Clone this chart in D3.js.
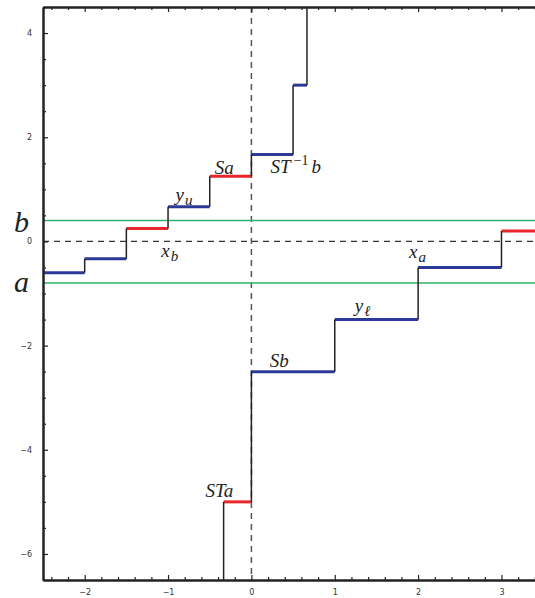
<!DOCTYPE html>
<html>
<head>
<meta charset="utf-8">
<script src="https://cdn.jsdelivr.net/npm/d3@7"></script>
<style>
  html, body { margin: 0; padding: 0; background: #fff; }
  svg { display: block; }
  .tick text { font-family: "DejaVu Sans", sans-serif; font-size: 8px; fill: #333; }
  .lbl { font-family: "Liberation Serif", "DejaVu Serif", serif; font-style: italic; fill: #222; }
</style>
</head>
<body>
<svg id="chart" width="535" height="598"></svg>
<script>
// Upper branch of the step map: each piece spans [start, end) at a constant value
const upperStart = [-2.5, -2, -1.5, -1, -0.5, 0, 0.5];
const upperEnd   = [-2, -1.5, -1, -0.5, 0, 0.5, 2 / 3];
const upperValue = [-0.6, -1 / 3, 0.25, 2 / 3, 1.25, 5 / 3, 3];
const upperKind  = ["u", "u", "r", "u", "r", "u", "u"];

// Lower branch
const lowerStart = [-1 / 3, 0, 1, 2, 3];
const lowerEnd   = [0, 1, 2, 3, 3.5];
const lowerValue = [-5, -2.5, -1.5, -0.5, 0.2];
const lowerKind  = ["r", "u", "u", "u", "r"];

// Interval end points a and b
const levelNames  = ["a", "b"];
const levelValues = [-0.8, 0.4];

// Annotations, anchored in data coordinates
const labelText = ["x_b", "y_u", "Sa", "ST^b", "x_a", "y_l", "Sb", "STa"];
const labelX    = [-1.08, -0.91, -0.44, 0.23, 1.89, 1.24, 0.22, -0.55];
const labelY    = [-0.30, 0.77, 1.29, 1.31, -0.32, -1.35, -2.41, -4.90];

const xTicks = [-2, -1, 0, 1, 2, 3];
const yTicks = [-6, -4, -2, 0, 2, 4];

const colour = { u: "#2b3a97", r: "#e8262c", green: "#2db46c" };

const svg = d3.select("#chart");
const x = d3.scaleLinear().domain([-2.5, 3.45]).range([43, 539]);
const y = d3.scaleLinear().domain([-6.5, 4.5]).range([580, 7]);

const [x0, x1] = x.range();
const [yB, yT] = y.range();

svg.append("defs").append("clipPath").attr("id", "plot")
  .append("rect").attr("x", x0).attr("y", yT).attr("width", x1 - x0).attr("height", yB - yT);

const g = svg.append("g").attr("clip-path", "url(#plot)");

// dashed coordinate axes
g.append("line")
  .attr("x1", x0).attr("x2", x1).attr("y1", y(0)).attr("y2", y(0))
  .attr("stroke", "#333").attr("stroke-width", 1.2).attr("stroke-dasharray", "6,5");
g.append("line")
  .attr("x1", x(0)).attr("x2", x(0)).attr("y1", yT).attr("y2", yB)
  .attr("stroke", "#555").attr("stroke-width", 1.5).attr("stroke-dasharray", "6,5");

// horizontal levels a and b
g.selectAll(".level").data(levelValues).join("line")
  .attr("class", "level")
  .attr("x1", x0).attr("x2", x1)
  .attr("y1", d => y(d)).attr("y2", d => y(d))
  .attr("stroke", colour.green).attr("stroke-width", 1.5);

function branch(starts, ends, values, kinds, riseFrom, riseTo) {
  const pieces = starts.map((s, i) => ({ s, e: ends[i], v: values[i], k: kinds[i] }));
  // vertical jumps between consecutive pieces
  const risers = [];
  pieces.forEach((p, i) => {
    if (i > 0) risers.push({ xv: p.s, a: pieces[i - 1].v, b: p.v });
  });
  if (riseFrom !== undefined) risers.push(riseFrom(pieces));
  if (riseTo !== undefined) risers.push(riseTo(pieces));

  g.append("g").selectAll("line").data(pieces).join("line")
    .attr("x1", d => x(d.s)).attr("x2", d => x(d.e))
    .attr("y1", d => y(d.v)).attr("y2", d => y(d.v))
    .attr("stroke", d => colour[d.k]).attr("stroke-width", 3);

  g.append("g").selectAll("line").data(risers).join("line")
    .attr("x1", d => x(d.xv)).attr("x2", d => x(d.xv))
    .attr("y1", d => y(d.a)).attr("y2", d => y(d.b))
    .attr("stroke", "#222").attr("stroke-width", 1.5);
}

const [ylo, yhi] = y.domain();
branch(upperStart, upperEnd, upperValue, upperKind,
  undefined,
  p => ({ xv: p[p.length - 1].e, a: p[p.length - 1].v, b: yhi + 1 }));
branch(lowerStart, lowerEnd, lowerValue, lowerKind,
  p => ({ xv: p[0].s, a: ylo - 1, b: p[0].v }),
  undefined);

// frame with inward ticks
const frame = svg.append("g");
function minor(lo, hi, step) {
  return d3.range(Math.ceil(lo / step), Math.floor(hi / step) + 1).map(i => i * step);
}
const isInt = v => Math.abs(v - Math.round(v)) < 1e-6;
const xMinor = minor(-2.5, 3.45, 0.2).filter(v => !isInt(v));
const yMinor = minor(-6.5, 4.5, 0.5).filter(v => !(isInt(v) && Math.round(v) % 2 === 0));

function tickSet(axisGen, scaleVals, size, labels) {
  return axisGen.tickValues(scaleVals).tickSizeInner(size).tickSizeOuter(0)
    .tickFormat(labels ? d => d3.format("")(d).replace("-", "\u2212") : "");
}

function styleAxis(sel) {
  sel.select(".domain").attr("stroke", "#222").attr("stroke-width", 2);
  sel.selectAll(".tick line").attr("stroke", "#222").attr("stroke-width", 1.2);
}

// bottom
frame.append("g").attr("transform", `translate(0,${yB})`)
  .call(tickSet(d3.axisBottom(x), xMinor, -3, false)).call(styleAxis);
frame.append("g").attr("transform", `translate(0,${yB})`)
  .call(tickSet(d3.axisBottom(x), xTicks, -5, true).tickPadding(13)).call(styleAxis)
  .selectAll(".tick text").attr("dy", "0.3em");
// top
frame.append("g").attr("transform", `translate(0,${yT})`)
  .call(tickSet(d3.axisTop(x), xMinor, -3, false)).call(styleAxis);
frame.append("g").attr("transform", `translate(0,${yT})`)
  .call(tickSet(d3.axisTop(x), xTicks, -5, false)).call(styleAxis);
// left
frame.append("g").attr("transform", `translate(${x0},0)`)
  .call(tickSet(d3.axisLeft(y), yMinor, -3, false)).call(styleAxis);
frame.append("g").attr("transform", `translate(${x0},0)`)
  .call(tickSet(d3.axisLeft(y), yTicks, -5, true).tickPadding(11)).call(styleAxis);

// annotations
const lbl = svg.append("g");
labelText.forEach((t, i) => {
  const txt = lbl.append("text").attr("class", "lbl")
    .attr("x", x(labelX[i])).attr("y", y(labelY[i]))
    .attr("font-size", 19);
  if (t === "ST^b") {
    txt.append("tspan").text("ST");
    txt.append("tspan").attr("font-style", "normal").attr("font-size", 14).attr("dy", -8).attr("dx", 3).text("\u22121");
    txt.append("tspan").attr("dy", 8).attr("dx", 3).text("b");
  } else if (t.includes("_")) {
    const [base, sub] = t.split("_");
    txt.append("tspan").text(base);
    txt.append("tspan").attr("font-size", 15).attr("dy", 4).attr("dx", 1)
      .text(sub === "l" ? "\u2113" : sub);
  } else {
    txt.text(t);
  }
});

// level names beside the frame
levelNames.forEach((n, i) => {
  lbl.append("text").attr("class", "lbl")
    .attr("x", 14)
    .attr("y", y(levelValues[i]) + (n === "b" ? 11 : 9))
    .attr("font-size", 30)
    .text(n);
});
</script>
</body>
</html>
